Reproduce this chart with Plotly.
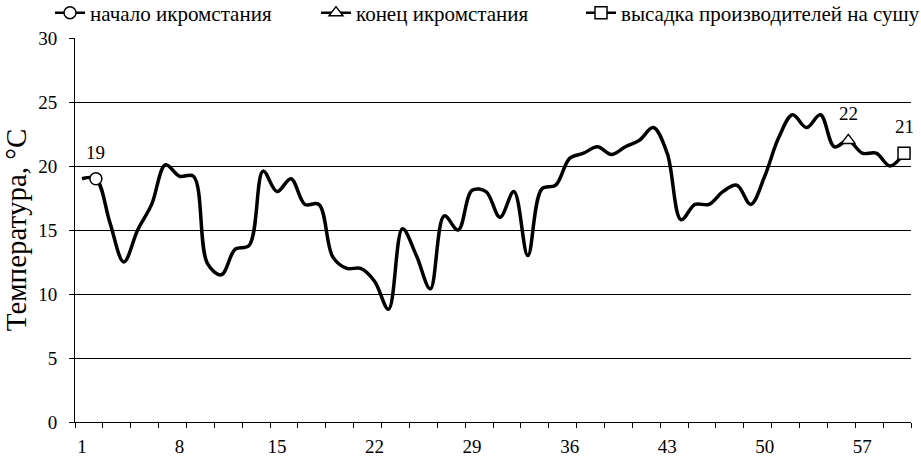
import plotly.graph_objects as go

# Daily water temperature during the spawning run
days = list(range(1, 61))
temp = [19, 19, 15.6, 12.5, 15, 17, 20.1, 19.2, 19.2, 12.4,
        11.5, 13.5, 13.8, 19.6, 18, 19, 17, 17, 12.9, 12,
        12, 11, 8.8, 15.1, 13, 10.4, 16.1, 15, 18.1, 18,
        16, 18, 13, 18.2, 18.5, 20.6, 21, 21.5, 20.9, 21.5,
        22, 23, 21, 15.8, 17, 17, 18, 18.5, 17, 19.2,
        22.2, 24, 23, 24, 21.5, 22, 21, 21, 20, 21]

# key events
events = ["начало икромстания", "конец икромстания", "высадка производителей на сушу"]
event_days = [2, 56, 60]
event_symbols = ["circle", "triangle-up", "square"]
legend_x = [50, 316, 581]

xtick_vals = [1, 8, 15, 22, 29, 36, 43, 50, 57]
xtick_marks = [0.5 + 2 * i for i in range(31)]

font = "Times New Roman, Liberation Serif, serif"

fig = go.Figure()

# main line (axis with the tick marks)
fig.add_trace(go.Scatter(
    x=days, y=temp, mode="lines",
    line=dict(color="black", width=3.5, shape="spline", smoothing=1),
    showlegend=False, hoverinfo="x+y"
))

# event markers on the overlay axis that carries the labels
for i, (name, d, sym) in enumerate(zip(events, event_days, event_symbols)):
    v = temp[d - 1]
    fig.add_trace(go.Scatter(
        x=[d], y=[v], mode="lines+markers", name=name, cliponaxis=False,
        xaxis="x2",
        line=dict(color="black", width=2.5),
        marker=dict(symbol=sym, size=12, color="white",
                    line=dict(color="black", width=1.5)),
        legend="legend" if i == 0 else "legend%d" % (i + 1)
    ))
    fig.add_annotation(x=d, y=v, xref="x2", text=str(round(v)), showarrow=False,
                       yanchor="bottom", yshift=14,
                       font=dict(family=font, size=19, color="black"))

leg = dict(orientation="h", xref="container", yref="container",
           xanchor="left", yanchor="middle", y=1 - 13 / 461,
           bgcolor="rgba(0,0,0,0)", borderwidth=0,
           font=dict(family=font, size=21, color="black"))

fig.update_layout(
    width=921, height=461,
    margin=dict(l=75, r=10, t=38, b=39, autoexpand=False),
    plot_bgcolor="white", paper_bgcolor="white",
    font=dict(family=font, size=18, color="black"),
    legend=dict(leg, x=legend_x[0] / 921),
    legend2=dict(leg, x=legend_x[1] / 921),
    legend3=dict(leg, x=legend_x[2] / 921),
    xaxis=dict(
        range=[0.5, 60.5], tickmode="array", tickvals=xtick_marks,
        ticktext=[""] * len(xtick_marks),
        ticks="outside", ticklen=5, tickcolor="black", tickwidth=1,
        showgrid=False, zeroline=False, automargin=False,
        showline=True, linecolor="black", linewidth=1
    ),
    xaxis2=dict(
        range=[0.5, 60.5], overlaying="x", side="bottom",
        tickmode="array", tickvals=xtick_vals, ticks="",
        showgrid=False, zeroline=False, showline=False, automargin=False,
        ticklabelstandoff=11,
        tickfont=dict(family=font, size=19)
    ),
    yaxis=dict(
        range=[0, 30], dtick=5, ticks="outside", ticklen=5,
        tickcolor="black", showgrid=True, gridcolor="black", gridwidth=1,
        zeroline=False, showline=True, linecolor="black", linewidth=1,
        ticklabelstandoff=8, automargin=False,
        tickfont=dict(family=font, size=19),
        title=dict(text="Температура, °С", standoff=8,
                   font=dict(family=font, size=29))
    )
)

fig.write_html("out.html", config={"displayModeBar": False},
               post_script="document.body.style.margin='0';")
